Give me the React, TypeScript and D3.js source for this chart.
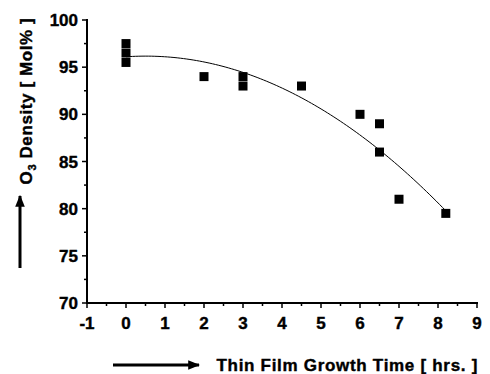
import React from 'react';
import * as d3 from 'd3';

// growth time in hours, O3 density in mol%
const timeHrs = [0, 0, 0, 2, 3, 3, 4.5, 6, 6.5, 6.5, 7, 8.2];
const densityMol = [97.5, 96.5, 95.5, 94, 94, 93, 93, 90, 89, 86, 81, 79.5];
const xTicks = [-1, 0, 1, 2, 3, 4, 5, 6, 7, 8, 9];
const yTicks = [70, 75, 80, 85, 90, 95, 100];

// least squares quadratic fit of the points
function quadFit(xs: number[], ys: number[]) {
  const s = (f: (x: number, y: number) => number) => d3.sum(xs, (x, i) => f(x, ys[i]));
  const n = xs.length;
  const sx = s(x => x), sx2 = s(x => x * x), sx3 = s(x => x ** 3), sx4 = s(x => x ** 4);
  const sy = s((_x, y) => y), sxy = s((x, y) => x * y), sx2y = s((x, y) => x * x * y);
  const m = [
    [n, sx, sx2, sy],
    [sx, sx2, sx3, sxy],
    [sx2, sx3, sx4, sx2y],
  ];
  for (let i = 0; i < 3; i++) {
    for (let j = i + 1; j < 3; j++) {
      const f = m[j][i] / m[i][i];
      for (let k = i; k < 4; k++) m[j][k] -= f * m[i][k];
    }
  }
  const c = m[2][3] / m[2][2];
  const b = (m[1][3] - m[1][2] * c) / m[1][1];
  const a = (m[0][3] - m[0][1] * b - m[0][2] * c) / m[0][0];
  return (x: number) => a + b * x + c * x * x;
}

export default function App() {
  const width = 490;
  const height = 374;
  const x = d3.scaleLinear().domain([-1, 9]).range([87, 477]);
  const y = d3.scaleLinear().domain([70, 100]).range([303, 20]);
  const fit = quadFit(timeHrs, densityMol);
  const [x0, x1] = d3.extent(timeHrs) as [number, number];
  const curveXs = d3.range(0, 101).map(i => x0 + ((x1 - x0) * i) / 100);
  const line = d3.line<number>().x(d => x(d)).y(d => y(fit(d)));
  const font = "'Liberation Sans', Arial, sans-serif";
  const xMinor = xTicks.slice(0, -1).map(t => t + 0.5);
  const yMinor = yTicks.slice(0, -1).map(t => t + 2.5);
  const sq = 9;

  return (
    <svg width={width} height={height} style={{ position: 'absolute', left: 0, top: 0, background: '#fff' }}
      fontFamily={font} fontWeight="bold" stroke="none">
      <defs>
        <marker id="arr" viewBox="0 0 10 10" refX="9" refY="5" markerWidth="4" markerHeight="4" orient="auto">
          <path d="M0,1 L10,5 L0,9 Z" fill="#000" />
        </marker>
      </defs>
      {/* axes */}
      <line x1={x(-1)} x2={x(-1)} y1={y(100) - 1} y2={y(70) + 1} stroke="#000" strokeWidth={2} />
      <line x1={x(-1) - 1} x2={x(9) + 1} y1={y(70)} y2={y(70)} stroke="#000" strokeWidth={2} />
      {yTicks.map(t => (
        <g key={'y' + t}>
          <line x1={x(-1) - 5} x2={x(-1)} y1={y(t)} y2={y(t)} stroke="#000" strokeWidth={1.5} />
          <text x={x(-1) - 9} y={y(t) + 6} textAnchor="end" fontSize={17} stroke="#000" strokeWidth={0.4}>{t}</text>
        </g>
      ))}
      {yMinor.map(t => (
        <line key={'ym' + t} x1={x(-1) - 3} x2={x(-1)} y1={y(t)} y2={y(t)} stroke="#000" strokeWidth={1.5} />
      ))}
      {xTicks.map(t => (
        <g key={'x' + t}>
          <line x1={x(t)} x2={x(t)} y1={y(70)} y2={y(70) + 5} stroke="#000" strokeWidth={1.5} />
          <text x={x(t)} y={y(70) + 26} textAnchor="middle" fontSize={17} stroke="#000" strokeWidth={0.4}>{t}</text>
        </g>
      ))}
      {xMinor.map(t => (
        <line key={'xm' + t} x1={x(t)} x2={x(t)} y1={y(70)} y2={y(70) + 3} stroke="#000" strokeWidth={1.5} />
      ))}
      {/* fit curve */}
      <path d={line(curveXs) || ''} fill="none" stroke="#000" strokeWidth={1} />
      {/* points */}
      {timeHrs.map((t, i) => (
        <rect key={i} x={x(t) - sq / 2} y={y(densityMol[i]) - sq / 2} width={sq} height={sq} fill="#000" />
      ))}
      {/* axis titles */}
      <line x1={20} y1={268} x2={20} y2={196} stroke="#000" strokeWidth={3} markerEnd="url(#arr)" />
      <text transform="translate(32,101) rotate(-90)" textAnchor="middle" fontSize={17}
        letterSpacing={0.6} stroke="#000" strokeWidth={0.4}>
        O<tspan fontSize={11} dy={4}>3</tspan><tspan dy={-4}> Density [ Mol% ]</tspan>
      </text>
      <line x1={113} y1={365} x2={199} y2={365} stroke="#000" strokeWidth={3} markerEnd="url(#arr)" />
      <text x={478} y={371} textAnchor="end" fontSize={17} letterSpacing={0.7}
        stroke="#000" strokeWidth={0.4}>Thin Film Growth Time [ hrs. ]</text>
    </svg>
  );
}
